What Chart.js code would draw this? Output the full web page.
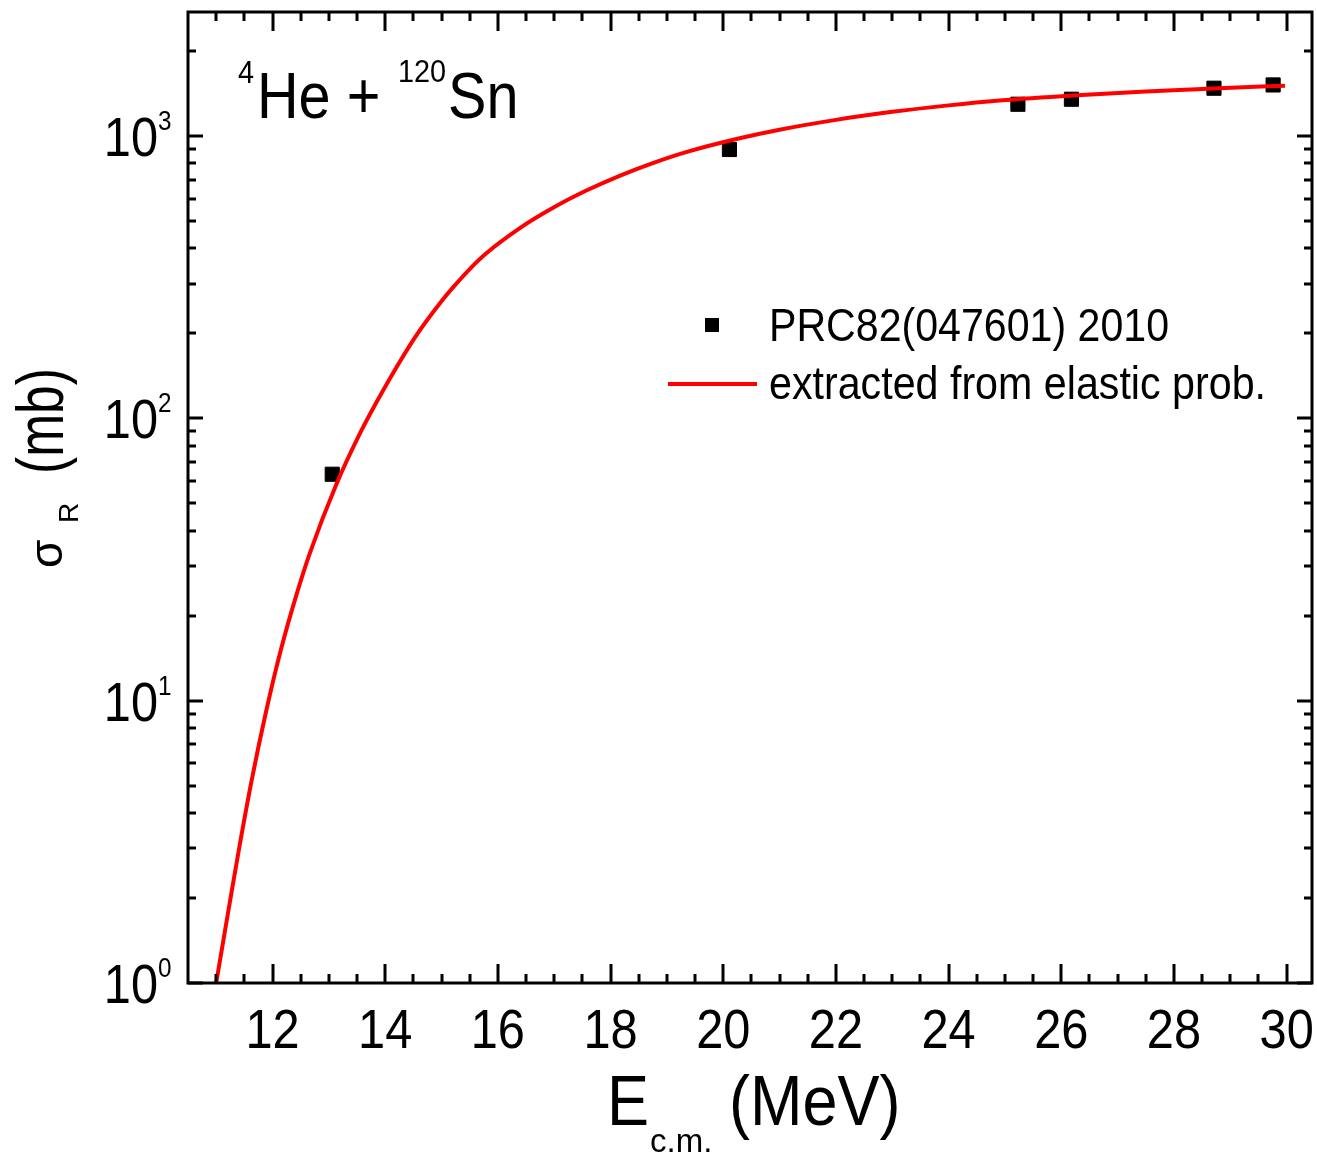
<!DOCTYPE html>
<html><head><meta charset="utf-8">
<script src="https://cdn.jsdelivr.net/npm/chart.js@4.4.1/dist/chart.umd.min.js"></script>
<style>html,body{margin:0;padding:0;background:#fff;overflow:hidden}#c{display:block}</style>
</head><body><canvas id="c" width="1317" height="1157"></canvas>
<script>
// ---- data ----
const curveX = [11.0, 11.21, 11.41, 11.63, 11.89, 12.16, 12.43, 12.66, 13.13, 13.55, 13.96, 14.55, 15.02, 15.2, 15.5, 15.79, 16.39, 16.98, 17.57, 18.16, 18.75, 19.34, 20.29, 21.0, 22.0, 23.0, 24.0, 24.9, 26.2, 27.5, 28.7, 29.97];
const curveY = [1.0, 1.77, 3.02, 5.22, 9.23, 15.45, 23.9, 33.2, 58.2, 88.3, 125.3, 196.3, 263, 290.4, 338, 383.7, 472, 557, 641, 723, 802, 877, 982, 1053, 1141, 1218, 1284, 1336, 1393, 1439, 1475, 1508];
const expX = [13.06, 20.11, 25.23, 26.18, 28.71, 29.76];
const expY = [63.4, 896, 1296, 1350, 1477, 1517];
const xTickValues = [12, 14, 16, 18, 20, 22, 24, 26, 28, 30];
const xTickLabels = ['12', '14', '16', '18', '20', '22', '24', '26', '28', '30'];
const yTickValues = [1, 10, 100, 1000];
const yTickBase = ['10', '10', '10', '10'];
const yTickExp = ['0', '1', '2', '3'];
const seriesNames = ['PRC82(047601) 2010', 'extracted from elastic prob.'];
const titleParts = ['4', 'He + ', '120', 'Sn'];

const FONT = '"Liberation Sans", Arial, sans-serif';
function txt(ctx, s, x, y, size, sx, align) {
  ctx.save();
  ctx.font = size + 'px ' + FONT;
  ctx.textAlign = align || 'left';
  ctx.textBaseline = 'alphabetic';
  ctx.translate(x, y);
  ctx.scale(sx, 1);
  ctx.fillStyle = '#000';
  ctx.fillText(s, 0, 0);
  ctx.restore();
}
function txtFit(ctx, s, x, y, size, w) {
  ctx.save();
  ctx.font = size + 'px ' + FONT;
  const m = ctx.measureText(s).width;
  ctx.restore();
  txt(ctx, s, x, y, size, w / m, 'left');
}

const decor = {
  id: 'decor',
  afterDraw(chart) {
    const ctx = chart.ctx;
    const a = chart.chartArea;
    const xs = chart.scales.x, ys = chart.scales.y;
    ctx.save();
    ctx.strokeStyle = '#000';
    ctx.lineWidth = 3;
    ctx.lineCap = 'butt';
    ctx.strokeRect(a.left, a.top, a.right - a.left, a.bottom - a.top);
    for (let v = 11; v <= 30.001; v += 0.5) {
      const px = Math.round(xs.getPixelForValue(v));
      const major = Math.abs(v % 2) < 1e-6;
      const L = major ? 19 : 9;
      ctx.beginPath();
      ctx.moveTo(px, a.bottom); ctx.lineTo(px, a.bottom - L);
      ctx.moveTo(px, a.top); ctx.lineTo(px, a.top + L);
      ctx.stroke();
    }
    for (let d = 0; d <= 3; d++) {
      for (let k = 1; k <= 9; k++) {
        const v = k * Math.pow(10, d);
        if (v > ys.max) break;
        const py = Math.round(ys.getPixelForValue(v));
        const L = k === 1 ? 15 : 8;
        ctx.beginPath();
        ctx.moveTo(a.left, py); ctx.lineTo(a.left + L, py);
        ctx.moveTo(a.right, py); ctx.lineTo(a.right - L, py);
        ctx.stroke();
      }
    }
    ctx.restore();
    xTickValues.forEach((v, i) => {
      txt(ctx, xTickLabels[i], xs.getPixelForValue(v), 1048, 56, 0.87, 'center');
    });
    yTickValues.forEach((v, i) => {
      const py = ys.getPixelForValue(v);
      txt(ctx, yTickBase[i], 158, py + 20, 56, 0.87, 'right');
      txt(ctx, yTickExp[i], 158, py - 6, 27, 0.9, 'left');
    });
    txt(ctx, 'E', 607, 1125, 70, 0.9, 'left');
    txt(ctx, 'c.m.', 650, 1152, 33, 1, 'left');
    txt(ctx, '(MeV)', 729, 1125, 70, 0.9, 'left');
    const rot = (s, bx, by, size, sx) => {
      ctx.save();
      ctx.translate(bx, by);
      ctx.rotate(-Math.PI / 2);
      ctx.font = size + 'px ' + FONT;
      ctx.scale(sx, 1);
      ctx.fillStyle = '#000';
      ctx.textBaseline = 'alphabetic';
      ctx.textAlign = 'left';
      ctx.fillText(s, 0, 0);
      ctx.restore();
    };
    rot('σ', 62, 568, 46, 1);
    rot('R', 78, 523, 28, 1);
    rot('(mb)', 63, 474, 66, 0.78);
    txt(ctx, titleParts[0], 238, 83, 32, 0.9, 'left');
    txt(ctx, titleParts[1], 257, 118, 64, 0.9, 'left');
    txt(ctx, titleParts[2], 398, 82, 32, 0.9, 'left');
    txt(ctx, titleParts[3], 448, 118, 64, 0.9, 'left');
    ctx.save();
    ctx.fillStyle = '#000';
    ctx.fillRect(705, 318, 14, 14);
    ctx.strokeStyle = '#ff0000';
    ctx.lineWidth = 4;
    ctx.beginPath(); ctx.moveTo(668, 384); ctx.lineTo(757, 384); ctx.stroke();
    ctx.restore();
    txtFit(ctx, seriesNames[0], 769, 341, 46, 400);
    txtFit(ctx, seriesNames[1], 769, 399, 46, 497);
  }
};

new Chart(document.getElementById('c'), {
  type: 'scatter',
  data: {
    datasets: [
      {
        label: seriesNames[1],
        data: curveX.map((x, i) => ({ x: x, y: curveY[i] })),
        showLine: true,
        borderColor: '#ff0000',
        backgroundColor: '#ff0000',
        borderWidth: 4,
        pointRadius: 0,
        cubicInterpolationMode: 'monotone',
        order: 0
      },
      {
        label: seriesNames[0],
        data: expX.map((x, i) => ({ x: x, y: expY[i] })),
        showLine: false,
        pointStyle: 'rect',
        pointRadius: 10,
        borderWidth: 1,
        borderColor: '#000',
        backgroundColor: '#000',
        order: 1
      }
    ]
  },
  options: {
    responsive: false,
    animation: false,
    events: [],
    devicePixelRatio: 1,
    layout: { autoPadding: false, padding: { left: 0, top: 12, right: 5, bottom: 0 } },
    plugins: { legend: { display: false }, tooltip: { enabled: false }, title: { display: false } },
    scales: {
      x: {
        type: 'linear', min: 10.5, max: 30.45,
        grid: { display: false }, border: { display: false },
        ticks: { display: false },
        afterFit(s) { s.height = 174; s.paddingLeft = 0; s.paddingRight = 0; }
      },
      y: {
        type: 'logarithmic', min: 1, max: 2750,
        grid: { display: false }, border: { display: false },
        ticks: { display: false },
        afterFit(s) { s.width = 188; s.paddingTop = 0; s.paddingBottom = 0; }
      }
    }
  },
  plugins: [decor]
});
</script>
</body></html>
